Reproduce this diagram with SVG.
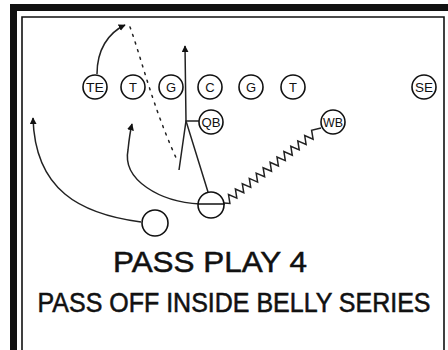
<svg xmlns="http://www.w3.org/2000/svg" width="448" height="350" viewBox="0 0 448 350">
<defs>
<style>
.pl{fill:#fff;stroke:#111;stroke-width:1.6}
.lb{font-family:"Liberation Sans",Arial,sans-serif;font-size:13px;fill:#111;text-anchor:middle;dominant-baseline:central}
.rt{fill:none;stroke:#222;stroke-width:1.5}
.ti{font-family:"Liberation Sans",Arial,sans-serif;fill:#111;stroke:#111;stroke-width:0.5;text-anchor:middle}
</style>
<marker id="ah" viewBox="0 0 10 10" refX="9" refY="5" markerWidth="7" markerHeight="7" markerUnits="userSpaceOnUse" orient="auto">
<path d="M0,0 L10,5 L0,10 z" fill="#111"/>
</marker>
</defs>
<rect width="448" height="350" fill="#fff"/>
<g id="border">
<rect x="10" y="4" width="7" height="346" fill="#111"/>
<rect x="10" y="4" width="438" height="7" fill="#111"/>
<path d="M22,350 V17 H444 V350" fill="none" stroke="#111" stroke-width="1.6"/>
</g>
<g id="connectors">
<path class="rt" d="M97,74 C97,50 108,33 125,25" marker-end="url(#ah)"/>
<path class="rt" d="M130,27 C142,60 152,105 177,160" stroke-dasharray="2,6" stroke-linecap="round" stroke-width="2"/>
<path class="rt" d="M208,192 L186,121 L185,46" marker-end="url(#ah)"/>
<path class="rt" d="M199,121 L186,121 L179,170"/>
<path class="rt" d="M225,204 L200,204 C160,202 122,180 128,150 C129,140 130,132 132,124" marker-end="url(#ah)"/>
<path class="rt" d="M141,222 C80,214 35,190 33,118" marker-end="url(#ah)"/>
<path class="rt" stroke-width="1.3" d="M224,203 L229.9,203.5 L228.5,194.5 L236.8,198.1 L235.4,189.1 L243.8,192.8 L242.3,183.8 L250.7,187.4 L249.3,178.4 L257.6,182.1 L256.2,173.1 L264.6,176.7 L263.1,167.7 L271.5,171.3 L270.1,162.3 L278.4,166 L277,157 L285.3,160.6 L283.9,151.6 L292.3,155.3 L290.8,146.3 L299.2,149.9 L297.8,140.9 L306.1,144.5 L304.7,135.5 L313.1,139.2 L311.6,130.2 L321,128"/>
</g>
<g id="TE"><circle class="pl" cx="95" cy="87" r="12"/><text class="lb" x="95" y="87" textLength="18" lengthAdjust="spacingAndGlyphs">TE</text></g>
<g id="LT"><circle class="pl" cx="133" cy="87" r="12"/><text class="lb" x="133" y="87">T</text></g>
<g id="LG"><circle class="pl" cx="171" cy="87" r="12"/><text class="lb" x="171" y="87">G</text></g>
<g id="C"><circle class="pl" cx="210" cy="87" r="12"/><text class="lb" x="210" y="87">C</text></g>
<g id="RG"><circle class="pl" cx="251" cy="87" r="12"/><text class="lb" x="251" y="87">G</text></g>
<g id="RT"><circle class="pl" cx="293" cy="87" r="12"/><text class="lb" x="293" y="87">T</text></g>
<g id="SE"><circle class="pl" cx="424" cy="87" r="12"/><text class="lb" x="424" y="87" textLength="18" lengthAdjust="spacingAndGlyphs">SE</text></g>
<g id="QB"><circle class="pl" cx="211" cy="122" r="12"/><text class="lb" x="211" y="122" textLength="19" lengthAdjust="spacingAndGlyphs">QB</text></g>
<g id="WB"><circle class="pl" cx="333" cy="122" r="12"/><text class="lb" x="333" y="122" textLength="20" lengthAdjust="spacingAndGlyphs">WB</text></g>
<g id="B1"><circle class="pl" cx="211" cy="205" r="13" fill="none"/><path d="M198,204 H224" stroke="#111" stroke-width="1.5"/></g>
<g id="B2"><circle class="pl" cx="155" cy="223" r="13"/></g>
<g id="title">
<text class="ti" x="210" y="272" font-size="29" textLength="194" lengthAdjust="spacingAndGlyphs">PASS PLAY 4</text>
<text class="ti" transform="translate(234,312) scale(1,1.12)" x="0" y="0" font-size="25">PASS OFF INSIDE BELLY SERIES</text>
</g>
</svg>
